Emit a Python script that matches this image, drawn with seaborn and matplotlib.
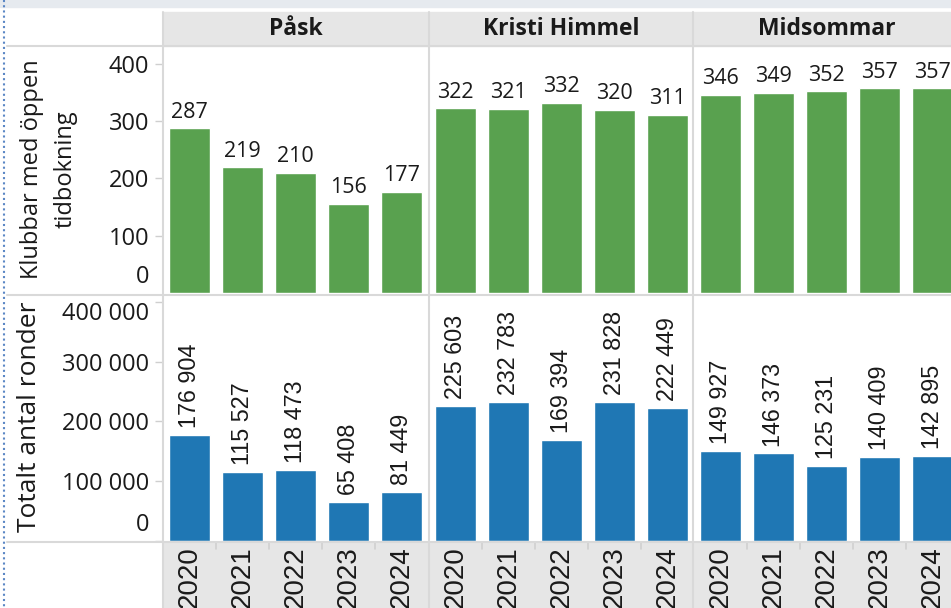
import numpy as np
import pandas as pd
import matplotlib
matplotlib.use("Agg")
import matplotlib.pyplot as plt
from matplotlib.patches import Rectangle
from matplotlib.lines import Line2D
import matplotlib.transforms as mtransforms
import seaborn as sns

# Data
years = ["2020", "2021", "2022", "2023", "2024"]
holidays = ["Påsk", "Kristi Himmel", "Midsommar"]

clubs_pask = [287, 219, 210, 156, 177]
clubs_kristi = [322, 321, 332, 320, 311]
clubs_midsommar = [346, 349, 352, 357, 357]

rounds_pask = [176904, 115527, 118473, 65408, 81449]
rounds_kristi = [225603, 232783, 169394, 231828, 222449]
rounds_midsommar = [149927, 146373, 125231, 140409, 142895]

clubs_ticks = [0, 100, 200, 300, 400]
rounds_ticks = [0, 100000, 200000, 300000, 400000]

clubs = {"Påsk": clubs_pask, "Kristi Himmel": clubs_kristi, "Midsommar": clubs_midsommar}
rounds = {"Påsk": rounds_pask, "Kristi Himmel": rounds_kristi, "Midsommar": rounds_midsommar}

rows = []
for h in holidays:
    for i, y in enumerate(years):
        rows.append({"Helg": h, "År": y, "Klubbar": clubs[h][i], "Ronder": rounds[h][i]})
df = pd.DataFrame(rows)

sns.set_theme(style="white")
plt.rcParams["font.family"] = ["Open Sans", "DejaVu Sans"]

W, H = 951, 608
fig = plt.figure(figsize=(W / 100, H / 100), dpi=100)

def fx(px):
    return px / W

def fy(py):
    return 1 - py / H

def fmt(v):
    return f"{v:,}".replace(",", " ")

GREEN = "#59a14f"
BLUE = "#1f77b4"
LINE = "#d9d9d9"
BAND = "#e6e6e6"
ARIAL = ["Liberation Sans", "DejaVu Sans"]

# background pieces
fig.add_artist(Rectangle((0, fy(7)), 1, 7 / H, transform=fig.transFigure, color="#e6eaef", zorder=0))
fig.add_artist(Rectangle((fx(163), fy(46)), 1, 34 / H, transform=fig.transFigure, color=BAND, zorder=0))
fig.add_artist(Rectangle((fx(163), 0), 1, fy(542), transform=fig.transFigure, color=BAND, zorder=0))

col_left = [163, 429, 694]
col_w = 265
band = col_w / 5
top_rows = (47, 293)
bot_rows = (297, 541)

for j, h in enumerate(holidays):
    sub = df[df["Helg"] == h]
    left = col_left[j]

    # header
    fig.text(fx(left + col_w / 2), fy(29), h, ha="center", va="center",
             fontsize=16.5, fontweight="bold", color="#1a1a1a")

    # top panel: clubs
    ax1 = fig.add_axes([fx(left), fy(top_rows[1]), col_w / W, (top_rows[1] - top_rows[0]) / H])
    sns.barplot(data=sub, x="År", y="Klubbar", color=GREEN, width=0.755, saturation=1, ax=ax1)
    ax1.set_ylim(0, 429)
    ax1.set_xlim(-0.5, 4.5)
    ax1.bar_label(ax1.containers[0], labels=[str(v) for v in sub["Klubbar"]],
                  padding=4, fontsize=15.5, color="#1a1a1a")

    # bottom panel: rounds
    ax2 = fig.add_axes([fx(left), fy(bot_rows[1]), col_w / W, (bot_rows[1] - bot_rows[0]) / H])
    sns.barplot(data=sub, x="År", y="Ronder", color=BLUE, width=0.755, saturation=1, ax=ax2)
    ax2.set_ylim(0, 408000)
    ax2.set_xlim(-0.5, 4.5)
    ax2.bar_label(ax2.containers[0], labels=[fmt(v) for v in sub["Ronder"]],
                  padding=5, fontsize=16.8, rotation=90, color="#1a1a1a", family=ARIAL)

    for ax in (ax1, ax2):
        ax.set_xlabel("")
        ax.set_ylabel("")
        ax.set_xticks([])
        ax.patch.set_alpha(0)
        for s in ax.spines.values():
            s.set_visible(False)

    if j == 0:
        ax1.set_yticks(clubs_ticks)
        ax1.set_yticklabels([str(t) for t in clubs_ticks])
        ax2.set_yticks(rounds_ticks)
        ax2.set_yticklabels([fmt(t) for t in rounds_ticks])
        for ax in (ax1, ax2):
            ax.tick_params(axis="y", length=6, width=1, color="#cfcfcf", pad=4,
                           labelsize=17, labelcolor="#1a1a1a", left=True)
        ax1.yaxis.get_major_ticks()[0].tick1line.set_visible(False)
        lift = mtransforms.ScaledTranslation(0, 4 / 100, fig.dpi_scale_trans)
        for lab in (ax1.get_yticklabels()[0], ax2.get_yticklabels()[0]):
            lab.set_va("bottom")
            lab.set_transform(lab.get_transform() + lift)
        ax2.get_yticklabels()[-1].set_va("top")
    else:
        ax1.set_yticks([])
        ax2.set_yticks([])

    # year labels in the bottom band
    for i, y in enumerate(years):
        fig.text(fx(left + band * (i + 0.5)), fy(546), y, rotation=90, ha="center", va="top",
                 fontsize=20, color="#1a1a1a", family=ARIAL)
        if i > 0:
            xb = fx(left + band * i)
            fig.add_artist(Line2D([xb, xb], [fy(542), fy(549)], transform=fig.transFigure,
                                  color="#d0d0d0", lw=1.2))

# axis titles
fig.text(fx(49), fy(169), "Klubbar med öppen\ntidbokning", rotation=90, ha="center", va="center",
         multialignment="center", fontsize=17, color="#1a1a1a", linespacing=1.5)
fig.text(fx(30), fy(417), "Totalt antal ronder", rotation=90, ha="center", va="center",
         fontsize=19, color="#1a1a1a")

# grid lines between panes
for xv in [163, 429, 693]:
    fig.add_artist(Line2D([fx(xv), fx(xv)], [fy(12), 0], transform=fig.transFigure, color=LINE, lw=1.5))
for yv in [46, 295, 542]:
    fig.add_artist(Line2D([fx(7), 1], [fy(yv), fy(yv)], transform=fig.transFigure, color=LINE, lw=1.5))

# dotted selection border at left
fig.add_artist(Line2D([fx(4), fx(4)], [1, 0], transform=fig.transFigure, color="#5b87c5",
                      lw=1.5, linestyle=(0, (1, 1.5))))

fig.savefig("out.png", dpi=100)
